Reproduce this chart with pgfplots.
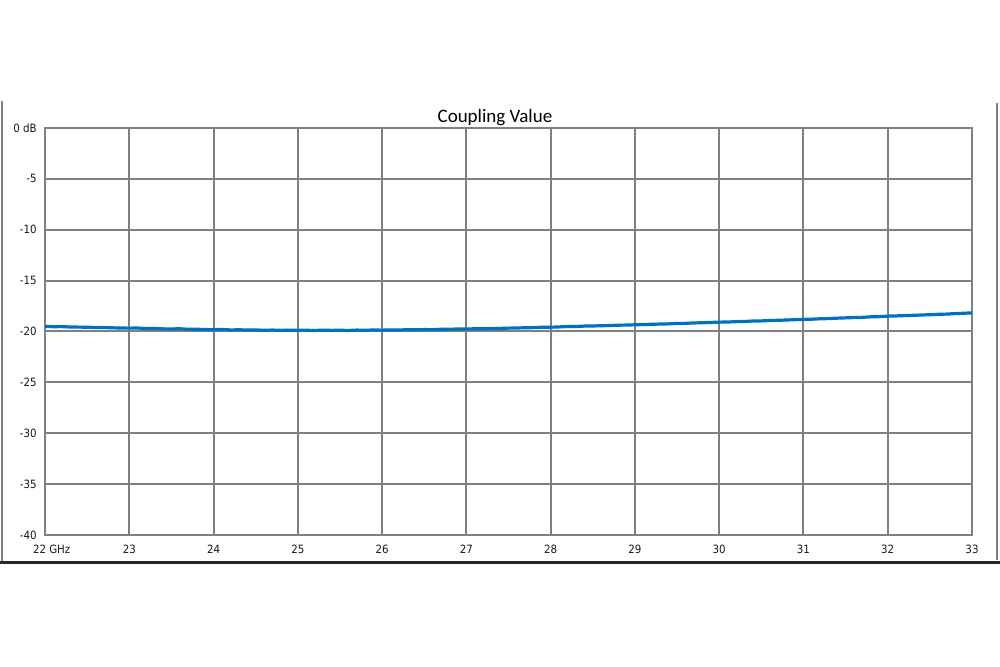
\documentclass[border=0pt]{standalone}
\usepackage{fontspec}
\setmainfont{DejaVu Sans Condensed}
\newfontfamily\titlefont{Carlito}
\usepackage{pgfplots}
\pgfplotsset{compat=1.18}
\definecolor{gridgray}{RGB}{128,128,128}
\definecolor{lineblue}{RGB}{0,112,192}
\begin{document}
\begin{tikzpicture}[x=1pt,y=1pt]
\useasboundingbox (0,0) rectangle (500,333.5);
\draw[gridgray, line width=1pt] (0.75,283) -- (0.75,52.5);
\draw[gridgray, line width=1pt] (498.5,282) -- (498.5,53.5);
\draw[black!85, line width=1.1pt] (0,52.2) -- (500,52.2);
\begin{axis}[
  at={(22.5pt,66pt)}, anchor=south west,
  width=463.5pt, height=203.5pt, scale only axis,
  xmin=22, xmax=33, ymin=-40, ymax=0,
  xtick={22,23,...,33},
  xticklabels={{\makebox[0pt][l]{\hspace*{-6pt}22 GHz}},23,24,25,26,27,28,29,30,31,32,33},
  ytick={-40,-35,...,0},
  yticklabels={-40,-35,-30,-25,-20,-15,-10,-5,0 dB},
  grid=major,
  major grid style={gridgray, line width=1pt},
  axis line style={gridgray, line width=1pt},
  major tick length=0pt,
  tick style={draw=none},
  ticklabel style={font=\fontsize{5.7}{6.5}\selectfont, text=black!90},
  xticklabel style={anchor=north, inner sep=0pt, yshift=-5pt},
  yticklabel style={anchor=east, inner sep=0pt, xshift=-4pt},
  title={Coupling Value},
  title style={at={(0.4854,1)}, anchor=base, inner sep=0pt, yshift=-3.3pt, font=\titlefont\fontsize{9.5}{11}\selectfont},
]
\addplot[lineblue, line width=1.6pt, no marks] coordinates {
(22.0,-19.50) (22.1,-19.53) (22.2,-19.52) (22.3,-19.56) (22.4,-19.57) (22.5,-19.58) (22.6,-19.62) (22.7,-19.61) (22.8,-19.64) (22.9,-19.66)
(23.0,-19.67) (23.1,-19.66) (23.2,-19.71) (23.3,-19.70) (23.4,-19.74) (23.5,-19.75) (23.6,-19.73) (23.7,-19.79) (23.8,-19.78) (23.9,-19.81)
(24.0,-19.82) (24.1,-19.80) (24.2,-19.85) (24.3,-19.83) (24.4,-19.86) (24.5,-19.85) (24.6,-19.88) (24.7,-19.86) (24.8,-19.89) (24.9,-19.87)
(25.0,-19.89) (25.1,-19.88) (25.2,-19.90) (25.3,-19.87) (25.4,-19.89) (25.5,-19.88) (25.6,-19.90) (25.7,-19.86) (25.8,-19.88) (25.9,-19.85)
(26.0,-19.87) (26.1,-19.84) (26.2,-19.86) (26.3,-19.82) (26.4,-19.84) (26.5,-19.81) (26.6,-19.82) (26.7,-19.78) (26.8,-19.79) (26.9,-19.75)
(27.0,-19.76) (27.1,-19.73) (27.2,-19.74) (27.3,-19.70) (27.4,-19.70) (27.5,-19.67) (27.6,-19.66) (27.7,-19.63) (27.8,-19.62) (27.9,-19.58)
(28.0,-19.58) (28.1,-19.55) (28.2,-19.51) (28.3,-19.51) (28.4,-19.47) (28.5,-19.46) (28.6,-19.43) (28.7,-19.42) (28.8,-19.38) (28.9,-19.37)
(29.0,-19.34) (29.1,-19.32) (29.2,-19.29) (29.3,-19.27) (29.4,-19.25) (29.5,-19.21) (29.6,-19.20) (29.7,-19.16) (29.8,-19.14) (29.9,-19.11)
(30.0,-19.08) (30.1,-19.07) (30.2,-19.03) (30.3,-19.02) (30.4,-18.97) (30.5,-18.96) (30.6,-18.92) (30.7,-18.90) (30.8,-18.87) (30.9,-18.84)
(31.0,-18.81) (31.1,-18.79) (31.2,-18.75) (31.3,-18.73) (31.4,-18.69) (31.5,-18.66) (31.6,-18.63) (31.7,-18.61) (31.8,-18.56) (31.9,-18.54)
(32.0,-18.49) (32.1,-18.47) (32.2,-18.44) (32.3,-18.41) (32.4,-18.38) (32.5,-18.35) (32.6,-18.31) (32.7,-18.29) (32.8,-18.24) (32.9,-18.21)
(33.0,-18.17)
};
\end{axis}
\end{tikzpicture}
\end{document}
